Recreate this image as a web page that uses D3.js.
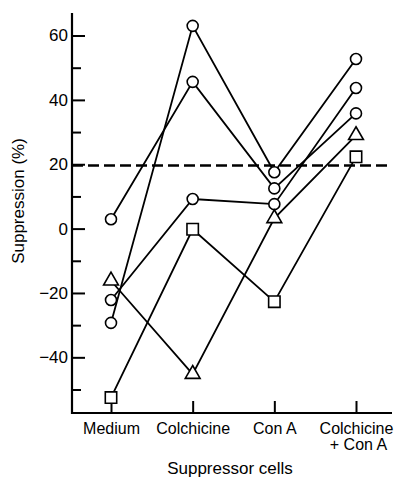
<!DOCTYPE html>
<html lang="en">
<head>
    <meta charset="UTF-8">
    <title>Suppression</title>
    <script src="https://d3js.org/d3.v7.min.js"></script>
</head>
<body>
<style>
    body {
        margin: 0;
        background: #fff;
    }
    text {
        font-family: "Liberation Sans", Arial, sans-serif;
        fill: #000;
    }
</style>
<script>
    // values
    var categories = ["Medium", "Colchicine", "Con A", "Colchicine + Con A"];
    var circleA = [-29.3, 63, 17.5, 52.7];
    var circleB = [2.9, 45.6, 12.5, 35.8];
    var circleC = [-22.2, 9.2, 7.6, 43.7];
    var triangle = [-16.2, -45.2, 3.2, 29];
    var square = [-52.5, -0.2, -22.7, 22.3];
    var threshold = 19.6;
    var majorTicks = [-40, -20, 0, 20, 40, 60];
    var minorTicks = [-50, -30, -10, 10, 30, 50];

    var series = [
        {values: circleA, shape: "circle"},
        {values: circleB, shape: "circle"},
        {values: circleC, shape: "circle"},
        {values: triangle, shape: "triangle"},
        {values: square, shape: "square"}
    ];

    var margin = {top: 13, left: 72},
        width = 320,
        height = 400;

    var svg = d3.select("body")
        .append("svg")
        .attr("width", 394)
        .attr("height", 477);

    var g = svg.append("g")
        .attr("transform", "translate(" + margin.left + "," + margin.top + ")");

    var x = d3.scalePoint()
        .domain(categories)
        .range([39, 284]);
    var y = d3.scaleLinear()
        .domain([-57.3, 67])
        .range([height, 0]);

    // y axis, ticks point inward
    var yAxis = g.append("g")
        .call(d3.axisLeft(y).tickValues(majorTicks).tickSize(-13).tickPadding(4));
    yAxis.select(".domain").remove();
    yAxis.selectAll("line").attr("stroke-width", 2);
    yAxis.selectAll("text").style("font-size", "17px").style("font-family", "Liberation Sans, Arial, sans-serif");

    var yMinor = g.append("g")
        .call(d3.axisLeft(y).tickValues(minorTicks).tickSize(-9).tickFormat(""));
    yMinor.select(".domain").remove();
    yMinor.selectAll("line").attr("stroke-width", 2);

    // x axis
    var xAxis = g.append("g")
        .attr("transform", "translate(0," + height + ")")
        .call(d3.axisBottom(x).tickSize(-12).tickPadding(10));
    xAxis.select(".domain").remove();
    xAxis.selectAll("line").attr("stroke-width", 2);
    xAxis.selectAll("text")
        .style("font-size", "16px")
        .style("font-family", "Liberation Sans, Arial, sans-serif")
        .each(function (d) {
            var parts = d.split(" + ");
            if (parts.length > 1) {
                var t = d3.select(this).text(null);
                t.append("tspan").attr("x", 0).text(parts[0]);
                t.append("tspan").attr("x", 2).attr("dy", "1em").text("+ " + parts[1]);
            }
        });

    // axis lines
    g.append("line")
        .attr("x1", 0).attr("x2", 0)
        .attr("y1", 0).attr("y2", height + 1)
        .attr("stroke", "#000").attr("stroke-width", 2.2);
    g.append("line")
        .attr("x1", -1).attr("x2", width)
        .attr("y1", height).attr("y2", height)
        .attr("stroke", "#000").attr("stroke-width", 2.2);

    // dashed threshold line
    g.append("line")
        .attr("x1", 0).attr("x2", width)
        .attr("y1", y(threshold)).attr("y2", y(threshold))
        .attr("stroke", "#000")
        .attr("stroke-width", 2.6)
        .attr("stroke-dasharray", "11,5");

    var line = d3.line()
        .x(function (d, i) { return x(categories[i]); })
        .y(function (d) { return y(d); });

    g.selectAll(".series")
        .data(series)
        .enter().append("path")
        .attr("class", "series")
        .attr("d", function (d) { return line(d.values); })
        .attr("fill", "none")
        .attr("stroke", "#000")
        .attr("stroke-width", 1.8);

    var symbols = {
        circle: d3.symbol(d3.symbolCircle, 95),
        triangle: d3.symbol(d3.symbolTriangle, 95),
        square: d3.symbol(d3.symbolSquare, 130)
    };

    series.forEach(function (s) {
        g.selectAll(null)
            .data(s.values)
            .enter().append("path")
            .attr("transform", function (d, i) {
                return "translate(" + x(categories[i]) + "," + y(d) + ")";
            })
            .attr("d", symbols[s.shape]())
            .attr("fill", "#fff")
            .attr("stroke", "#000")
            .attr("stroke-width", 1.6);
    });

    // titles
    svg.append("text")
        .attr("transform", "translate(24,201) rotate(-90)")
        .attr("text-anchor", "middle")
        .style("font-size", "17px")
        .text("Suppression (%)");

    svg.append("text")
        .attr("x", 230)
        .attr("y", 474)
        .attr("text-anchor", "middle")
        .style("font-size", "17px")
        .text("Suppressor cells");
</script>
</body>
</html>
